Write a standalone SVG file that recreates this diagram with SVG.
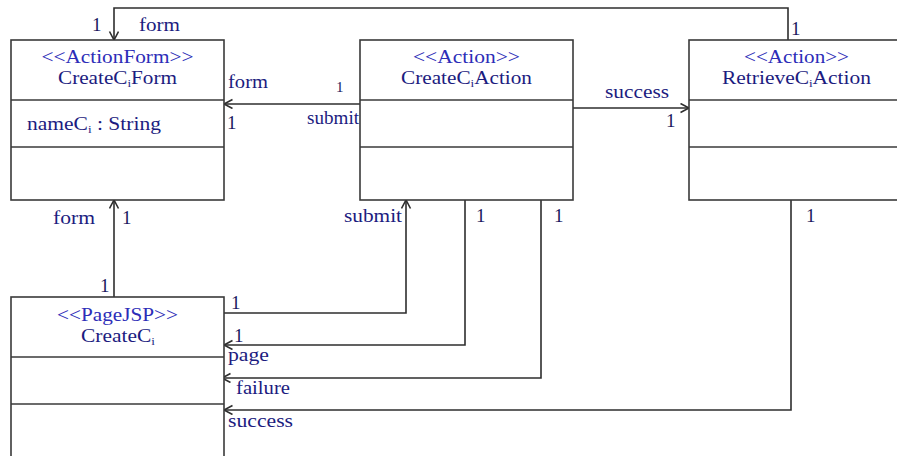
<svg xmlns="http://www.w3.org/2000/svg" width="897" height="456" viewBox="0 0 897 456">
  <style>
    .box { fill: #ffffff; stroke: #3a3a3a; stroke-width: 1.6; }
    .sep { stroke: #3a3a3a; stroke-width: 1.6; }
    .st { font-family: "Liberation Serif", "Times New Roman", serif; font-size: 18px; fill: #2d2db8; }
    .nm { font-family: "Liberation Serif", "Times New Roman", serif; font-size: 18px; fill: #1c1c80; }
    .lb { font-family: "Liberation Serif", "Times New Roman", serif; font-size: 18px; fill: #1c1c80; }
    .m1 { font-family: "Liberation Serif", "Times New Roman", serif; font-size: 19px; fill: #1a1a60; }
    .sm { font-family: "Liberation Serif", "Times New Roman", serif; font-size: 15px; fill: #1a1a60; }
    .ln { fill: none; stroke: #2e2e2e; stroke-width: 1.6; marker-end: url(#open); }
  </style>
  <defs>
    <marker id="open" markerUnits="userSpaceOnUse" markerWidth="12" markerHeight="12" refX="9" refY="5" orient="auto">
      <path d="M0.5,0.5 L9,5 L0.5,9.5" fill="none" stroke="#2e2e2e" stroke-width="1.6"/>
    </marker>
  </defs>
  <rect width="897" height="456" fill="#ffffff"/>

  <!-- connectors -->
  <g id="connectors">
    <polyline class="ln" points="788,40 788,8 114,8 114,40"/>
    <polyline class="ln" points="360,104 224,104"/>
    <polyline class="ln" points="573,108 689,108"/>
    <polyline class="ln" points="114,297 114,200"/>
    <polyline class="ln" points="224,313 406,313 406,200"/>
    <polyline class="ln" points="465,200 465,345 224,345"/>
    <polyline class="ln" points="541,200 541,378 222,378"/>
    <polyline class="ln" points="791,200 791,410 224,410"/>

    <text class="m1" x="92" y="31">1</text>
    <text class="lb" x="139" y="31" textLength="41" lengthAdjust="spacingAndGlyphs">form</text>
    <text class="m1" x="791" y="35">1</text>

    <text class="lb" x="228" y="88" textLength="40" lengthAdjust="spacingAndGlyphs">form</text>
    <text class="m1" x="227" y="129">1</text>
    <text class="sm" x="336" y="92">1</text>
    <text class="lb" x="307" y="124" textLength="52" lengthAdjust="spacingAndGlyphs">submit</text>

    <text class="lb" x="605" y="98" textLength="64" lengthAdjust="spacingAndGlyphs">success</text>
    <text class="m1" x="666" y="127">1</text>

    <text class="lb" x="53" y="224" textLength="42" lengthAdjust="spacingAndGlyphs">form</text>
    <text class="m1" x="122" y="224">1</text>
    <text class="m1" x="100" y="292">1</text>

    <text class="lb" x="344" y="222" textLength="58" lengthAdjust="spacingAndGlyphs">submit</text>
    <text class="m1" x="476" y="222">1</text>
    <text class="m1" x="554" y="222">1</text>
    <text class="m1" x="806" y="222">1</text>

    <text class="m1" x="231" y="309">1</text>
    <text class="m1" x="234" y="342">1</text>
    <text class="lb" x="228" y="361" textLength="41" lengthAdjust="spacingAndGlyphs">page</text>
    <text class="lb" x="236" y="394" textLength="54" lengthAdjust="spacingAndGlyphs">failure</text>
    <text class="lb" x="228" y="427" textLength="65" lengthAdjust="spacingAndGlyphs">success</text>
  </g>

  <!-- CreateCiForm -->
  <g id="createCiForm">
    <rect class="box" x="11" y="40" width="213" height="160"/>
    <line class="sep" x1="11" y1="100" x2="224" y2="100"/>
    <line class="sep" x1="11" y1="147" x2="224" y2="147"/>
    <text class="st" x="117.5" y="63" text-anchor="middle" textLength="152" lengthAdjust="spacingAndGlyphs">&lt;&lt;ActionForm&gt;&gt;</text>
    <text class="nm" x="58" y="84" textLength="119" lengthAdjust="spacingAndGlyphs">CreateC<tspan font-size="11" dy="3">i</tspan><tspan dy="-3">Form</tspan></text>
    <text class="nm" x="27" y="130" textLength="134" lengthAdjust="spacingAndGlyphs">nameC<tspan font-size="11" dy="3">i</tspan><tspan dy="-3"> : String</tspan></text>
  </g>

  <!-- CreateCiAction -->
  <g id="createCiAction">
    <rect class="box" x="360" y="40" width="213" height="160"/>
    <line class="sep" x1="360" y1="100" x2="573" y2="100"/>
    <line class="sep" x1="360" y1="147" x2="573" y2="147"/>
    <text class="st" x="466.5" y="63" text-anchor="middle" textLength="107" lengthAdjust="spacingAndGlyphs">&lt;&lt;Action&gt;&gt;</text>
    <text class="nm" x="401" y="84" textLength="131" lengthAdjust="spacingAndGlyphs">CreateC<tspan font-size="11" dy="3">i</tspan><tspan dy="-3">Action</tspan></text>
  </g>

  <!-- RetrieveCiAction -->
  <g id="retrieveCiAction">
    <rect class="box" x="689" y="40" width="230" height="160"/>
    <line class="sep" x1="689" y1="100" x2="919" y2="100"/>
    <line class="sep" x1="689" y1="147" x2="919" y2="147"/>
    <text class="st" x="796.5" y="63" text-anchor="middle" textLength="105" lengthAdjust="spacingAndGlyphs">&lt;&lt;Action&gt;&gt;</text>
    <text class="nm" x="722" y="84" textLength="149" lengthAdjust="spacingAndGlyphs">RetrieveC<tspan font-size="11" dy="3">i</tspan><tspan dy="-3">Action</tspan></text>
  </g>

  <!-- CreateCi page -->
  <g id="createCiPage">
    <rect class="box" x="11" y="297" width="213" height="180"/>
    <line class="sep" x1="11" y1="357" x2="224" y2="357"/>
    <line class="sep" x1="11" y1="404" x2="224" y2="404"/>
    <text class="st" x="117.5" y="321" text-anchor="middle" textLength="121" lengthAdjust="spacingAndGlyphs">&lt;&lt;PageJSP&gt;&gt;</text>
    <text class="nm" x="81" y="342" textLength="74" lengthAdjust="spacingAndGlyphs">CreateC<tspan font-size="11" dy="3">i</tspan></text>
  </g>
</svg>
